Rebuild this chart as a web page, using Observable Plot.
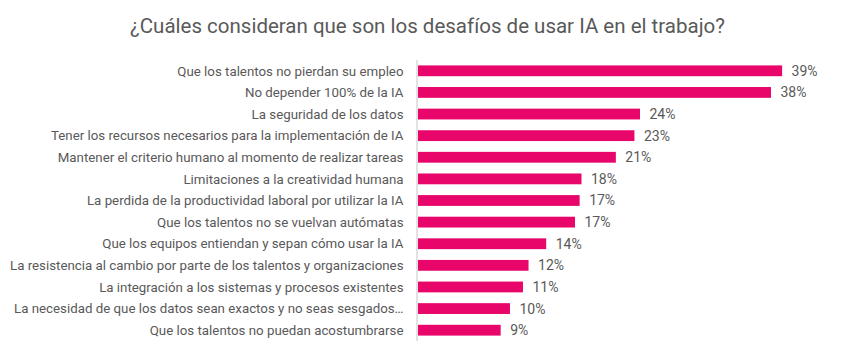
<!DOCTYPE html>
<html>
<head>
<meta charset="utf-8">
<script src="https://cdn.jsdelivr.net/npm/d3@7"></script>
<script src="https://cdn.jsdelivr.net/npm/@observablehq/plot@0.6"></script>
<style>
  body { margin: 0; background: #fff; }
  #title { height: 56px; box-sizing: border-box; padding-top: 14px; text-align: center;
    font-family: Roboto, "Open Sans", sans-serif; font-size: 20.5px; line-height: 24px; color: #595959; width: 855px; }
</style>
</head>
<body>
<div id="title">¿Cuáles consideran que son los desafíos de usar IA en el trabajo?</div>
<div id="chart"></div>
<script>
const categories = [
  "Que los talentos no pierdan su empleo",
  "No depender 100% de la IA",
  "La seguridad de los datos",
  "Tener los recursos necesarios para la implementación de IA",
  "Mantener el criterio humano al momento de realizar tareas",
  "Limitaciones a la creatividad humana",
  "La perdida de la productividad laboral por utilizar la IA",
  "Que los talentos no se vuelvan autómatas",
  "Que los equipos entiendan y sepan cómo usar la IA",
  "La resistencia al cambio por parte de los talentos y organizaciones",
  "La integración a los sistemas y procesos existentes",
  "La necesidad de que los datos sean exactos y no seas sesgados…",
  "Que los talentos no puedan acostumbrarse"
];
const values = [39.2, 38.0, 23.9, 23.3, 21.3, 17.6, 17.4, 16.9, 13.8, 11.9, 11.3, 9.9, 8.9];
const labels = ["39%", "38%", "24%", "23%", "21%", "18%", "17%", "17%", "14%", "12%", "11%", "10%", "9%"];

const data = categories.map((c, i) => ({category: c, value: values[i], label: labels[i]}));
const textColor = "#595959";
const barColor = "#e8066b";

const chart = Plot.plot({
  width: 855,
  height: 303,
  marginLeft: 418,
  marginRight: 19,
  marginTop: 4,
  marginBottom: 18,
  style: {fontFamily: "Roboto, 'Open Sans', sans-serif", fontSize: "13.3px", color: textColor, background: "#fff"},
  x: {domain: [0, 45], axis: null},
  y: {domain: categories, paddingInner: 0.5, paddingOuter: 0.25, round: false, label: null},
  marks: [
    Plot.axisY({tickSize: 0, tickPadding: 15, fill: textColor, fontSize: 13.3}),
    Plot.barX(data, {x: "value", y: "category", fill: barColor}),
    Plot.ruleX([0], {stroke: "#d9d9d9", strokeWidth: 1.5, dx: -1.5}),
    Plot.text(data, {x: "value", y: "category", text: "label", textAnchor: "start", dx: 9, fill: textColor, fontSize: 14})
  ]
});
document.getElementById("chart").appendChild(chart);
</script>
</body>
</html>
